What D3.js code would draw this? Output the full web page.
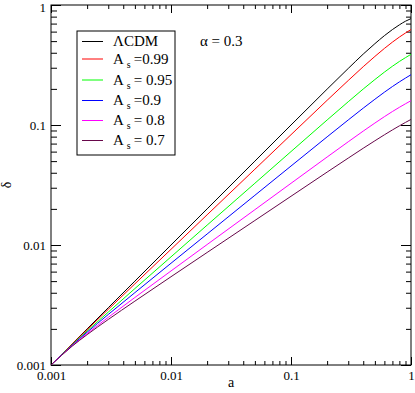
<!DOCTYPE html>
<html>
<head>
<meta charset="utf-8">
<script src="https://cdn.jsdelivr.net/npm/d3@7"></script>
<style>
  body { margin: 0; background: #fff; }
  svg text { font-family: "Liberation Serif", "Times New Roman", serif; fill: #000; }
</style>
</head>
<body>
<div id="chart"></div>
<script>
// scale factor a, shared by every curve
var aVals = [0.001, 0.0015, 0.002, 0.003, 0.005, 0.01, 0.02, 0.05, 0.1, 0.2, 0.3, 0.4, 0.5, 0.6, 0.7, 0.8, 0.9, 1];

// delta(a)
var lcdm  = [0.001, 0.0015, 0.002, 0.003, 0.005, 0.01, 0.02, 0.05, 0.1, 0.199, 0.296, 0.39, 0.476, 0.555, 0.624, 0.683, 0.733, 0.77];
var as099 = [0.001, 0.001491, 0.00197, 0.002909, 0.004746, 0.009203, 0.01785, 0.04281, 0.08299, 0.1606, 0.235, 0.3062, 0.3727, 0.4345, 0.4904, 0.5405, 0.5846, 0.6244];
var as095 = [0.001, 0.001475, 0.001919, 0.002758, 0.004333, 0.007967, 0.01464, 0.0327, 0.06006, 0.1101, 0.1563, 0.1995, 0.2392, 0.2758, 0.3088, 0.3383, 0.3644, 0.3882];
var as09  = [0.001, 0.001461, 0.001877, 0.002636, 0.004009, 0.007045, 0.01235, 0.02595, 0.0455, 0.07965, 0.1102, 0.1382, 0.1639, 0.1876, 0.2091, 0.2286, 0.2461, 0.2624];
var as08  = [0.001, 0.001446, 0.001827, 0.002495, 0.003653, 0.006077, 0.01009, 0.01969, 0.03266, 0.05409, 0.0725, 0.08899, 0.1038, 0.1173, 0.1295, 0.1404, 0.1503, 0.1594];
var as07  = [0.001, 0.001434, 0.001791, 0.002395, 0.003405, 0.00544, 0.008662, 0.01601, 0.02547, 0.0405, 0.053, 0.06403, 0.07387, 0.08285, 0.09097, 0.09835, 0.1051, 0.1113];

var seriesNames = ['LCDM', 'As=0.99', 'As=0.95', 'As=0.9', 'As=0.8', 'As=0.7'];
var legendText  = ['\u039BCDM', '=0.99', '= 0.95', '=0.9', '= 0.8', '= 0.7'];
var majorTicks  = [0.001, 0.01, 0.1, 1];
var tickLabels  = ['0.001', '0.01', '0.1', '1'];

var colors = ['#000000', '#ff0000', '#00ff00', '#0000ff', '#ff00ff', '#67074a'];
var allSeries = [lcdm, as099, as095, as09, as08, as07];

var chart_width = 415;
var chart_height = 393;
var pLeft = 51, pRight = 411, pTop = 5, pBottom = 365;

var svg = d3.select('#chart')
    .append('svg')
    .attr('width', chart_width)
    .attr('height', chart_height);

var x_scale = d3.scaleLog().domain([0.001, 1]).range([pLeft, pRight]);
var y_scale = d3.scaleLog().domain([0.001, 1]).range([pBottom, pTop]);

// minor ticks: 2..9 inside each decade
var minorTicks = x_scale.ticks().filter(d => majorTicks.indexOf(d) < 0);

function styleAxis(g) {
    g.select('.domain').remove();
    g.selectAll('line').attr('stroke', '#000');
}

// bottom
svg.append('g')
    .attr('transform', `translate(0, ${pBottom})`)
    .call(d3.axisBottom(x_scale).tickValues(majorTicks).tickSize(-8)
        .tickFormat((d, i) => tickLabels[i]))
    .call(styleAxis)
    .selectAll('text').attr('font-size', 13).attr('y', 4).attr('dy', '0.85em');
svg.append('g')
    .attr('transform', `translate(0, ${pBottom})`)
    .call(d3.axisBottom(x_scale).tickValues(minorTicks).tickSize(-4).tickFormat(''))
    .call(styleAxis);

// top
svg.append('g')
    .attr('transform', `translate(0, ${pTop})`)
    .call(d3.axisTop(x_scale).tickValues(majorTicks).tickSize(-8).tickFormat(''))
    .call(styleAxis);
svg.append('g')
    .attr('transform', `translate(0, ${pTop})`)
    .call(d3.axisTop(x_scale).tickValues(minorTicks).tickSize(-4).tickFormat(''))
    .call(styleAxis);

// left
svg.append('g')
    .attr('transform', `translate(${pLeft}, 0)`)
    .call(d3.axisLeft(y_scale).tickValues(majorTicks).tickSize(-10)
        .tickFormat((d, i) => tickLabels[i]))
    .call(styleAxis)
    .selectAll('text').attr('font-size', 13).attr('x', -5)
    .attr('y', d => d === 1 ? 2 : 0);
svg.append('g')
    .attr('transform', `translate(${pLeft}, 0)`)
    .call(d3.axisLeft(y_scale).tickValues(minorTicks).tickSize(-6).tickFormat(''))
    .call(styleAxis);

// right
svg.append('g')
    .attr('transform', `translate(${pRight}, 0)`)
    .call(d3.axisRight(y_scale).tickValues(majorTicks).tickSize(-10).tickFormat(''))
    .call(styleAxis);
svg.append('g')
    .attr('transform', `translate(${pRight}, 0)`)
    .call(d3.axisRight(y_scale).tickValues(minorTicks).tickSize(-5).tickFormat(''))
    .call(styleAxis);

// frame
svg.append('rect')
    .attr('x', pLeft).attr('y', pTop)
    .attr('width', pRight - pLeft).attr('height', pBottom - pTop)
    .attr('fill', 'none').attr('stroke', '#000').attr('stroke-width', 1);

// curves
var line = d3.line()
    .x((d, i) => x_scale(aVals[i]))
    .y(d => y_scale(d))
    .curve(d3.curveMonotoneX);

svg.append('g').selectAll('path')
    .data(allSeries)
    .enter()
    .append('path')
    .attr('d', d => line(d))
    .attr('fill', 'none')
    .attr('stroke', (d, i) => colors[i])
    .attr('stroke-width', 1);

// axis titles
svg.append('text')
    .attr('x', 231).attr('y', 387)
    .attr('text-anchor', 'middle')
    .attr('font-size', 14)
    .text('a');

svg.append('text')
    .attr('transform', 'translate(11, 185) rotate(-90)')
    .attr('text-anchor', 'middle')
    .attr('font-size', 14)
    .text('\u03B4');

svg.append('text')
    .attr('x', 200).attr('y', 46)
    .attr('font-size', 15)
    .text('\u03B1 = 0.3');

// legend
var legY = [41.5, 59, 80, 100.5, 120.5, 140.5];
var legend = svg.append('g');
legend.append('rect')
    .attr('x', 77).attr('y', 31)
    .attr('width', 98).attr('height', 124)
    .attr('fill', '#fff').attr('stroke', '#000').attr('stroke-width', 1);

var rows = legend.selectAll('g.row')
    .data(seriesNames)
    .enter()
    .append('g')
    .attr('class', 'row')
    .attr('transform', (d, i) => `translate(0, ${legY[i]})`);

rows.append('line')
    .attr('x1', 82).attr('x2', 103)
    .attr('y1', 0).attr('y2', 0)
    .attr('stroke', (d, i) => colors[i])
    .attr('stroke-width', 1);

rows.each(function(d, i) {
    var t = d3.select(this).append('text')
        .attr('x', 113).attr('y', 4.5)
        .attr('font-size', 15);
    if (i === 0) {
        t.text(legendText[i]);
    } else {
        t.append('tspan').text('A');
        t.append('tspan').attr('dx', 3).attr('dy', 4).attr('font-size', 10).text('s');
        t.append('tspan').attr('dx', 3).attr('dy', -4).text(legendText[i]);
    }
});
</script>
</body>
</html>
